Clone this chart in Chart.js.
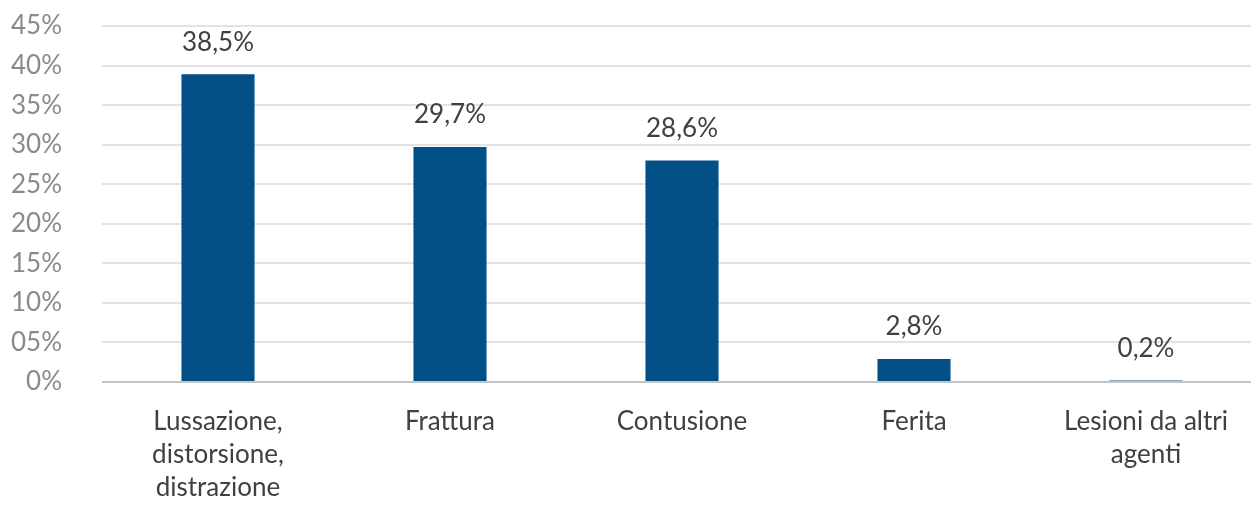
<!DOCTYPE html>
<html>
<head>
<meta charset="utf-8">
<script src="https://cdn.jsdelivr.net/npm/chart.js@4"></script>
<style>
  html, body { margin: 0; padding: 0; background: #fff; overflow: hidden; }
  /* l'area del grafico prosegue oltre il bordo destro, come nell'originale */
  #wrap { width: 1251px; height: 506px; overflow: hidden; }
</style>
</head>
<body>
<div id="wrap"><canvas id="lesioniChart" width="1262" height="506"></canvas></div>
<script>
// categorie (righe spezzate come nell'originale)
const categories = [
  ['Lussazione,', 'distorsione,', 'distrazione'],
  'Frattura',
  'Contusione',
  'Ferita',
  ['Lesioni da altri', 'agenti']
];
// altezze delle barre (%)
const barValues = [38.9, 29.7, 28.0, 2.9, 0.2];
// etichette stampate sopra le barre
const valueLabels = ['38,5%', '29,7%', '28,6%', '2,8%', '0,2%'];
const yTicks = [0, 5, 10, 15, 20, 25, 30, 35, 40, 45];
const yTickLabels = ['0%', '05%', '10%', '15%', '20%', '25%', '30%', '35%', '40%', '45%'];

const fontFamily = 'Lato, "Open Sans", sans-serif';

// etichette dei valori sopra le barre
const valueLabelPlugin = {
  id: 'valueLabels',
  afterDatasetsDraw(chart) {
    const ctx = chart.ctx;
    const meta = chart.getDatasetMeta(0);
    ctx.save();
    ctx.font = '26px ' + fontFamily;
    ctx.fillStyle = '#404040';
    ctx.textAlign = 'center';
    ctx.textBaseline = 'middle';
    meta.data.forEach((bar, i) => {
      ctx.fillText(valueLabels[i], bar.x, bar.y - 32);
    });
    ctx.restore();
  }
};

new Chart(document.getElementById('lesioniChart'), {
  type: 'bar',
  data: {
    labels: categories,
    datasets: [{
      data: barValues,
      backgroundColor: '#034f88',
      categoryPercentage: 1,
      barPercentage: 0.315
    }]
  },
  options: {
    responsive: false,
    animation: false,
    layout: { padding: { top: 26, right: 0, left: 0, bottom: 0 } },
    plugins: {
      legend: { display: false },
      tooltip: { enabled: false }
    },
    scales: {
      x: {
        grid: { display: false },
        border: { display: false },
        ticks: {
          color: '#404040',
          font: { family: fontFamily, size: 26, lineHeight: 1.27 },
          maxRotation: 0,
          padding: 15
        },
        afterFit(scale) {
          scale.height = 124;
          scale.paddingLeft = 0;
          scale.paddingRight = 0;
          scale.paddingTop = 0;
        }
      },
      y: {
        min: 0,
        max: 45,
        afterBuildTicks(scale) {
          scale.ticks = yTicks.map(v => ({ value: v }));
        },
        grid: {
          drawTicks: false,
          lineWidth: 2,
          color: ctx => (ctx.tick && ctx.tick.value === 0) ? '#c4c4c4' : '#e3e3e3'
        },
        border: { display: false },
        ticks: {
          color: '#8a8a8a',
          font: { family: fontFamily, size: 26 },
          padding: 40,
          callback: (v) => yTickLabels[yTicks.indexOf(v)]
        },
        afterFit(scale) {
          scale.width = 102;
          scale.paddingTop = 0;
          scale.paddingBottom = 0;
        }
      }
    }
  },
  plugins: [valueLabelPlugin]
});
</script>
</body>
</html>
